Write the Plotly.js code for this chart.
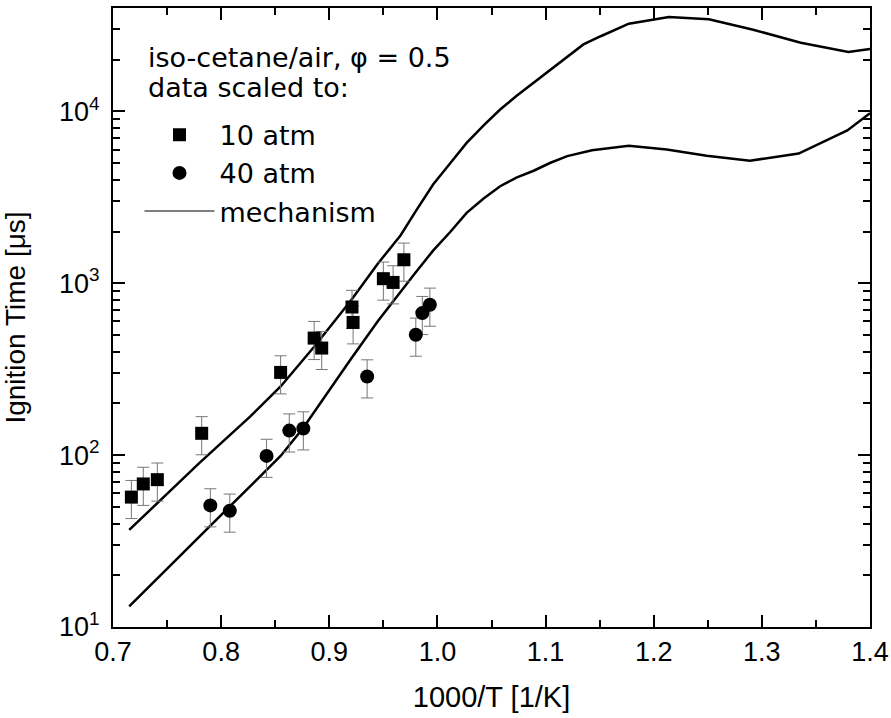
<!DOCTYPE html>
<html><head><meta charset="utf-8">
<script src="https://cdn.plot.ly/plotly-3.0.1.min.js"></script>
<style>html,body{margin:0;padding:0;background:#fff}</style>
</head><body><div id="chart" style="width:891px;height:718px"></div>
<script>
// 10 atm data (scaled)
const x10 = [0.717, 0.728, 0.741, 0.782, 0.855, 0.886, 0.893, 0.921, 0.922, 0.950, 0.959, 0.969];
const y10 = [57, 68, 72, 134, 303, 480, 420, 728, 592, 1064, 1012, 1371];
// 40 atm data (scaled)
const x40 = [0.790, 0.808, 0.842, 0.863, 0.876, 0.935, 0.980, 0.986, 0.993];
const y40 = [51, 47.5, 99, 139, 143, 287, 502, 671, 750];
const errPercent = 25;
// mechanism, 10 atm
const mechX10 = [0.715,0.75,0.78,0.827,0.855,0.886,0.92,0.945,0.966,0.98,0.996,1.012,1.027,1.043,1.058,1.073,1.089,1.104,1.120,1.135,1.151,1.177,1.214,1.251,1.292,1.336,1.380,1.400];
const mechY10 = [36.7,59.6,90.2,168,251,427,794,1303,1905,2630,3758,5010,6560,8318,10260,12300,14700,17540,21000,24550,27400,32400,35400,34400,29900,25100,22200,23100];
// mechanism, 40 atm
const mechX40 = [0.715,0.75,0.78,0.827,0.855,0.876,0.90,0.92,0.945,0.966,0.98,0.996,1.012,1.027,1.043,1.058,1.073,1.089,1.104,1.120,1.143,1.177,1.212,1.249,1.289,1.334,1.379,1.400];
const mechY40 = [13.2,21.9,33.9,66,98.9,144.5,240,363,603,902,1161,1549,1995,2570,3126,3673,4121,4519,5012,5495,5940,6320,6000,5530,5170,5690,7760,9780];
// axis ticks
const yTickVals = [10, 100, 1000, 10000];
const yTickText = ['10<sup>1</sup>', '10<sup>2</sup>', '10<sup>3</sup>', '10<sup>4</sup>'];
const yMinorVals = [];
yTickVals.forEach(d => { for (let k = 2; k <= 9; k++) { if (d * k <= 40000) yMinorVals.push(d * k); } });
// legend header text
const headerLines = ['iso-cetane/air, φ = 0.5', 'data scaled to:'];

const FONT = 'Liberation Sans, Arial, sans-serif';
const LFONT = 'DejaVu Sans, Liberation Sans, sans-serif';
const errStyle = {type: 'percent', value: errPercent, color: '#777', thickness: 1, width: 6};

const traces = [
  {x: mechX10, y: mechY10, mode: 'lines', line: {color: '#000', width: 2.5}, showlegend: false, hoverinfo: 'skip'},
  {x: mechX40, y: mechY40, mode: 'lines', line: {color: '#000', width: 2.5}, showlegend: false, hoverinfo: 'skip'},
  {x: x10, y: y10, mode: 'markers', name: '10 atm', legendgroup: 'a',
   marker: {symbol: 'square', size: 13, color: '#000'}, error_y: errStyle},
  {x: x40, y: y40, mode: 'markers', name: '40 atm', legendgroup: 'b',
   marker: {symbol: 'circle', size: 14, color: '#000'}, error_y: errStyle},
  {x: [null], y: [null], mode: 'lines', name: 'mechanism', legendgroup: 'c',
   line: {color: '#000', width: 1}}
];

const layout = {
  width: 891, height: 718,
  margin: {l: 113, r: 21, t: 8, b: 91},
  paper_bgcolor: '#fff', plot_bgcolor: '#fff',
  font: {family: FONT, color: '#000'},
  showlegend: true,
  legend: {
    x: 0.035, y: 0.834, xanchor: 'left', yanchor: 'top',
    bgcolor: 'rgba(0,0,0,0)', borderwidth: 0,
    font: {family: LFONT, size: 27, color: '#000'},
    itemwidth: 70, traceorder: 'grouped', tracegroupgap: 0
  },
  annotations: headerLines.map((t, i) => ({
    xref: 'paper', yref: 'paper', x: 0.043, y: [0.920, 0.8715][i],
    xanchor: 'left', yanchor: 'middle', showarrow: false, text: t,
    font: {family: LFONT, size: 27, color: '#000'}
  })),
  xaxis: {
    range: [0.7, 1.4], dtick: 0.1, tick0: 0.7, tickformat: '.1f',
    ticks: 'inside', ticklen: 12, tickwidth: 2, tickcolor: '#000',
    showline: true, linewidth: 2, linecolor: '#000', mirror: 'ticks',
    showgrid: false, zeroline: false,
    minor: {ticks: 'inside', dtick: 0.05, ticklen: 7, tickwidth: 2, tickcolor: '#000'},
    tickfont: {family: FONT, size: 27, color: '#000'},
    title: {text: '1000/T [1/K]', font: {family: FONT, size: 29, color: '#000'}, standoff: 20}
  },
  yaxis: {
    type: 'log', range: [1, Math.log10(40000)],
    tickmode: 'array', tickvals: yTickVals, ticktext: yTickText,
    ticks: 'inside', ticklen: 12, tickwidth: 2, tickcolor: '#000',
    showline: true, linewidth: 2, linecolor: '#000', mirror: 'ticks',
    showgrid: false, zeroline: false,
    minor: {ticks: 'inside', tickmode: 'array', tickvals: yMinorVals, ticklen: 7, tickwidth: 2, tickcolor: '#000'},
    tickfont: {family: FONT, size: 27, color: '#000'},
    ticklabelstandoff: 6,
    title: {text: 'Ignition Time [μs]', font: {family: FONT, size: 28, color: '#000'}, standoff: 26}
  }
};

Plotly.newPlot('chart', traces, layout, {displayModeBar: false, staticPlot: true});
</script>
</body></html>
